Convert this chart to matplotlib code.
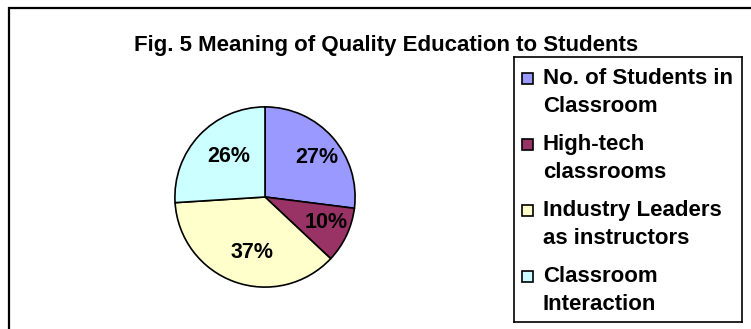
import matplotlib
matplotlib.use("Agg")
import matplotlib.pyplot as plt
import matplotlib.transforms as mtransforms
from matplotlib.patches import Rectangle

plt.rcParams['font.family'] = ['Liberation Sans', 'DejaVu Sans']

TITLE = "Fig. 5 Meaning of Quality Education to Students"
categories = ["No. of Students in\nClassroom", "High-tech\nclassrooms",
              "Industry Leaders\nas instructors", "Classroom\nInteraction"]
shares = [27, 10, 37, 26]
colors = ["#9999FF", "#993366", "#FFFFCC", "#CCFFFF"]

W, H = 751, 329
fig = plt.figure(figsize=(W / 100, H / 100), dpi=100)

# outer chart frame (runs off the right and bottom edge)
fig.add_artist(Rectangle((9 / W, -0.1), 2, 1.1 - 8 / H, transform=fig.transFigure,
                         fill=False, lw=1.6, ec="black"))

fig.text(386 / W, 1 - 45 / H, TITLE, ha="center", va="center",
         fontsize=16, fontweight="bold")

# pie
cx, cy, r = 265, 197, 91
ax = fig.add_axes([(cx - r) / W, (H - cy - r) / H, 2 * r / W, 2 * r / H])
wedges, _, autotexts = ax.pie(shares, colors=colors, startangle=90, counterclock=False,
                              autopct="%d%%", pctdistance=0.66,
                              wedgeprops=dict(edgecolor="black", linewidth=1.2))
# Excel-like labels sit a little to the right
nudge = mtransforms.ScaledTranslation(7 / 100, 0, fig.dpi_scale_trans)
for t in autotexts:
    t.set_fontsize(15.5)
    t.set_fontweight("bold")
    t.set_transform(t.get_transform() + nudge)
ax.set_xlim(-1.01, 1.01)
ax.set_ylim(-1.01, 1.01)

# legend box
lx0, ly0, lx1, ly1 = 514, 57, 742, 322
lax = fig.add_axes([lx0 / W, (H - ly1) / H, (lx1 - lx0) / W, (ly1 - ly0) / H])
lax.set_xlim(0, lx1 - lx0)
lax.set_ylim(ly1 - ly0, 0)
lax.set_xticks([])
lax.set_yticks([])
for s in lax.spines.values():
    s.set_linewidth(1.2)

for i, (lab, c) in enumerate(zip(categories, colors)):
    y = 21 + 66 * i
    lax.add_patch(Rectangle((8, y - 5.5), 11, 11, fc=c, ec="black", lw=1.2))
    lax.text(29, y - 10, lab, ha="left", va="top", fontsize=16,
             fontweight="bold", linespacing=1.46)

fig.savefig("out.png", dpi=100)
